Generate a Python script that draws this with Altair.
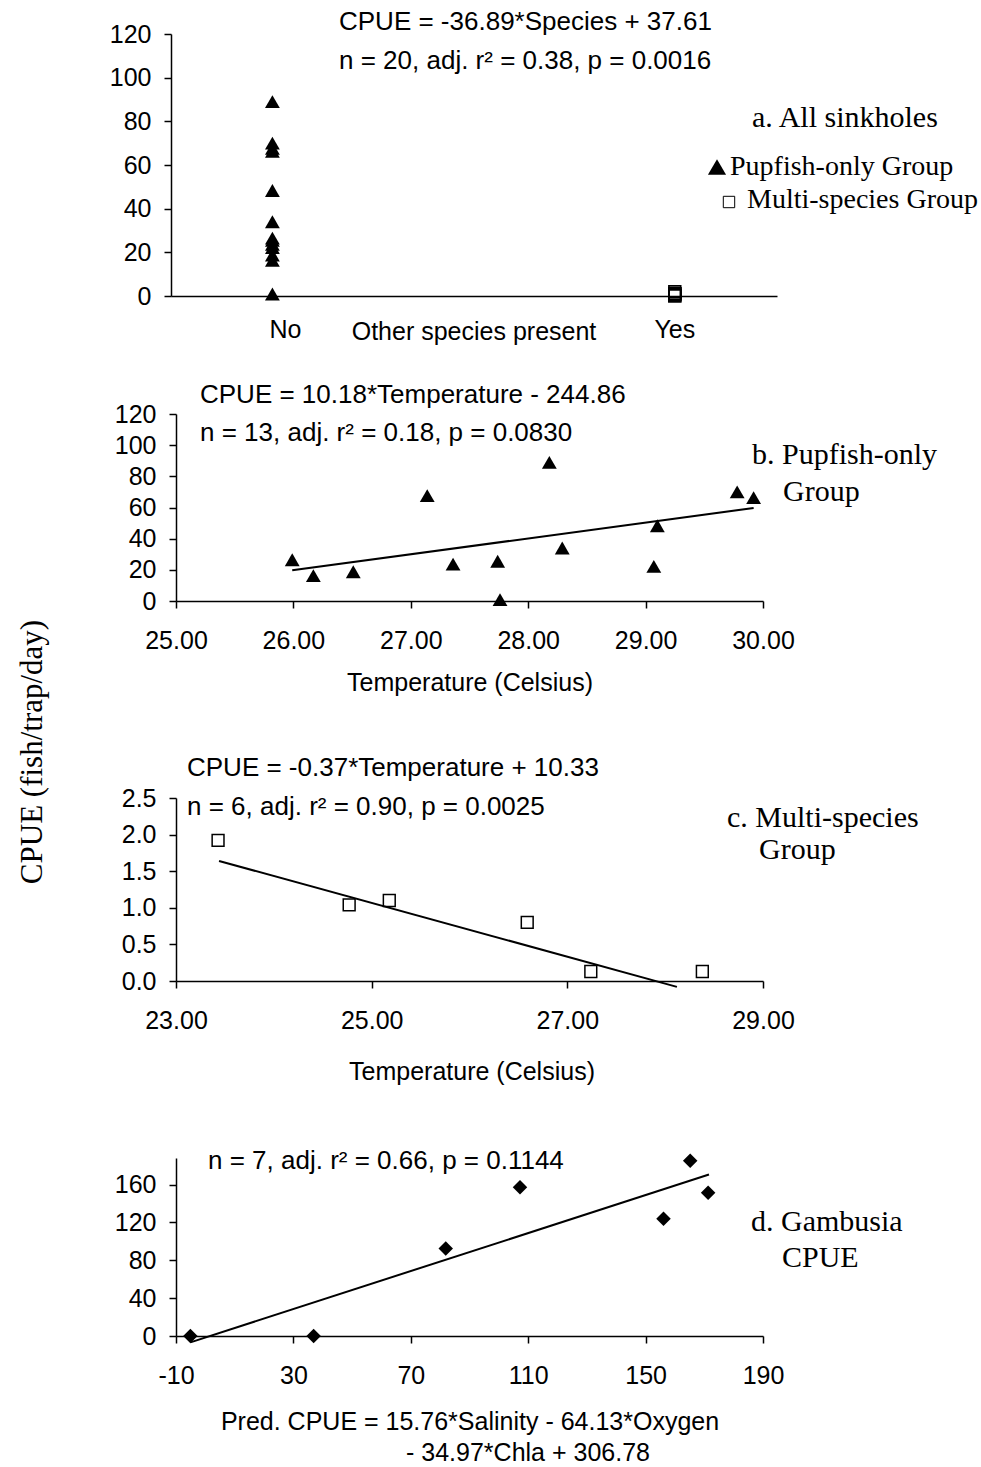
import altair as alt
import pandas as pd

# ---------------- data ----------------
species_labels = ["No", "Yes"]
species_codes = [0, 1]

pupfish_temp = [25.99, 26.17, 26.51, 27.14, 27.36, 27.74, 27.76, 28.18, 28.29, 29.07, 29.10, 29.78, 29.92]
pupfish_cpue = [26.5, 16.3, 18.8, 67.6, 23.7, 25.5, 0.9, 89.0, 34.0, 22.2, 48.3, 70.0, 66.3]

multi_temp = [23.43, 24.77, 25.18, 26.59, 27.24, 28.38]
multi_cpue = [1.92, 1.04, 1.10, 0.80, 0.13, 0.13]

gamb_pred = [-5.1, 36.9, 81.9, 107.2, 156.1, 165.2, 171.3]
gamb_cpue = [0.0, 0.0, 92.3, 157.2, 123.9, 185.0, 151.2]

fit_b_temp = [25.99, 29.92]
fit_b_cpue = [19.7, 59.7]
fit_c_temp = [23.44, 28.12]
fit_c_cpue = [1.64, -0.08]
fit_d_pred = [-5.1, 171.6]
fit_d_cpue = [-6.7, 170.5]

ticks_a_y = [0, 20, 40, 60, 80, 100, 120]
ticks_b_x = [25, 26, 27, 28, 29, 30]
ticks_b_y = [0, 20, 40, 60, 80, 100, 120]
ticks_c_x = [23, 25, 27, 29]
ticks_c_y = [0.0, 0.5, 1.0, 1.5, 2.0, 2.5]
ticks_d_x = [-10, 30, 70, 110, 150, 190]
ticks_d_y = [0, 40, 80, 120, 160]

SANS = "Liberation Sans"
SERIF = "Liberation Serif"
EQ = 26
PANEL = 30
LEG = 28


def label(text, x, y, font=SANS, size=EQ, align="left", angle=0):
    return alt.Chart(pd.DataFrame({"t": [text]})).mark_text(
        font=font, fontSize=size, align=align, baseline="middle", color="black", angle=angle
    ).encode(x=alt.value(x), y=alt.value(y), text="t:N")


def marker(shape, x, y, size, filled):
    return alt.Chart(pd.DataFrame({"k": [0]})).mark_point(
        shape=shape, size=size, filled=filled, color="black", opacity=1, strokeWidth=1
    ).encode(x=alt.value(x), y=alt.value(y))


# ---------------- panel a ----------------
sx_a = alt.Scale(domain=[-0.252, 1.254], range=[-5, 601], nice=False, zero=False)
sy_a = alt.Scale(domain=[0, 120], nice=False, zero=False)
df_a_pup = pd.DataFrame({"code": [species_codes[0]] * len(pupfish_cpue), "cpue": pupfish_cpue})
df_a_mul = pd.DataFrame({"code": [species_codes[1]] * len(multi_cpue), "cpue": multi_cpue})
df_a_lab = pd.DataFrame({"code": species_codes, "lab": species_labels})

x_a = alt.X("code:Q", scale=sx_a, axis=alt.Axis(labels=False, ticks=False, title=None))
y_a = alt.Y("cpue:Q", scale=sy_a, axis=alt.Axis(values=ticks_a_y, format="d", title=None, offset=5))

frame = alt.Chart(pd.DataFrame({"k": [0]})).mark_rect(opacity=0).encode(
    x=alt.value(-176), x2=alt.value(805), y=alt.value(-34), y2=alt.value(1433)
)
a_tri = alt.Chart(df_a_pup).mark_point(shape="triangle-up", filled=True, size=220, color="black", opacity=1).encode(x=x_a, y=y_a)
a_sq = alt.Chart(df_a_mul).mark_point(shape="square", filled=False, size=140, color="black", strokeWidth=1.6, opacity=1).encode(x="code:Q", y="cpue:Q")
a_lab_no = alt.Chart(df_a_lab).transform_filter(alt.datum.code == species_codes[0]).mark_text(
    font=SANS, fontSize=25, baseline="middle", color="black", dx=13).encode(
    x="code:Q", y=alt.value(296), text="lab:N")
a_lab_yes = alt.Chart(df_a_lab).transform_filter(alt.datum.code == species_codes[1]).mark_text(
    font=SANS, fontSize=25, baseline="middle", color="black").encode(
    x="code:Q", y=alt.value(296), text="lab:N")

panel_a = alt.layer(
    frame, a_tri, a_sq, a_lab_no, a_lab_yes,
    label("CPUE = -36.89*Species + 37.61", 163, -12),
    label("n = 20, adj. r² = 0.38, p = 0.0016", 163, 27),
    label("Other species present", 298, 298, size=25, align="center"),
    label("a. All sinkholes", 576, 84, font=SERIF, size=PANEL),
    marker("triangle-up", 541, 133, 330, True),
    label("Pupfish-only Group", 554, 133, font=SERIF, size=LEG),
    marker("square", 553, 168, 130, False),
    label("Multi-species Group", 571, 166, font=SERIF, size=LEG),
).properties(width=601, height=262)

# ---------------- panel b ----------------
sx_b = alt.Scale(domain=[25, 30], nice=False, zero=False)
sy_b = alt.Scale(domain=[0, 120], range=[305, 118], nice=False, zero=False)
df_b = pd.DataFrame({"temp": pupfish_temp, "cpue": pupfish_cpue})
df_b_fit = pd.DataFrame({"temp": fit_b_temp, "cpue": fit_b_cpue})
x_b = alt.X("temp:Q", scale=sx_b, axis=alt.Axis(values=ticks_b_x, format=".2f", title=None))
y_b = alt.Y("cpue:Q", scale=sy_b, axis=alt.Axis(values=ticks_b_y, format="d", title=None))
b_pts = alt.Chart(df_b).mark_point(shape="triangle-up", filled=True, size=220, color="black", opacity=1).encode(x=x_b, y=y_b)
b_fit = alt.Chart(df_b_fit).mark_line(color="black", strokeWidth=2).encode(x="temp:Q", y="cpue:Q")
panel_b = alt.layer(
    b_pts, b_fit,
    label("CPUE = 10.18*Temperature - 244.86", 24, 99),
    label("n = 13, adj. r² = 0.18, p = 0.0830", 24, 137),
    label("b. Pupfish-only", 576, 159, font=SERIF, size=PANEL),
    label("Group", 607, 196, font=SERIF, size=PANEL),
    label("Temperature (Celsius)", 294, 387, size=25, align="center"),
).properties(width=587, height=305)

# ---------------- panel c ----------------
sx_c = alt.Scale(domain=[23, 29], nice=False, zero=False)
sy_c = alt.Scale(domain=[0, 2.5], range=[380, 197], nice=False, zero=False)
df_c = pd.DataFrame({"temp": multi_temp, "cpue": multi_cpue})
df_c_fit = pd.DataFrame({"temp": fit_c_temp, "cpue": fit_c_cpue})
x_c = alt.X("temp:Q", scale=sx_c, axis=alt.Axis(values=ticks_c_x, format=".2f", title=None))
y_c = alt.Y("cpue:Q", scale=sy_c, axis=alt.Axis(values=ticks_c_y, format=".1f", title=None))
c_pts = alt.Chart(df_c).mark_point(shape="square", filled=False, size=140, color="black", strokeWidth=1.5, opacity=1).encode(x=x_c, y=y_c)
c_fit = alt.Chart(df_c_fit).mark_line(color="black", strokeWidth=2).encode(x="temp:Q", y="cpue:Q")
panel_c = alt.layer(
    c_pts, c_fit,
    label("CPUE = -0.37*Temperature + 10.33", 11, 167),
    label("n = 6, adj. r² = 0.90, p = 0.0025", 11, 206),
    label("c. Multi-species", 551, 217, font=SERIF, size=PANEL),
    label("Group", 583, 249, font=SERIF, size=PANEL),
    label("Temperature (Celsius)", 296, 471, size=25, align="center"),
    label("CPUE (fish/trap/day)", -143, 151, font=SERIF, size=31, align="center", angle=270),
).properties(width=587, height=380)

# ---------------- panel d ----------------
sx_d = alt.Scale(domain=[-10, 190], nice=False, zero=False)
sy_d = alt.Scale(domain=[0, 188], range=[355, 177], nice=False, zero=False)
df_d = pd.DataFrame({"pred": gamb_pred, "cpue": gamb_cpue})
df_d_fit = pd.DataFrame({"pred": fit_d_pred, "cpue": fit_d_cpue})
x_d = alt.X("pred:Q", scale=sx_d, axis=alt.Axis(values=ticks_d_x, labelExpr="'' + datum.value", title=None))
y_d = alt.Y("cpue:Q", scale=sy_d, axis=alt.Axis(values=ticks_d_y, format="d", title=None))
d_pts = alt.Chart(df_d).mark_point(shape="diamond", filled=True, size=210, color="black", opacity=1).encode(x=x_d, y=y_d)
d_fit = alt.Chart(df_d_fit).mark_line(color="black", strokeWidth=2).encode(x="pred:Q", y="cpue:Q")
panel_d = alt.layer(
    d_pts, d_fit,
    label("n = 7, adj. r² = 0.66, p = 0.1144", 32, 180),
    label("d. Gambusia", 575, 241, font=SERIF, size=PANEL),
    label("CPUE", 606, 277, font=SERIF, size=PANEL),
    label("Pred. CPUE = 15.76*Salinity - 64.13*Oxygen", 294, 441, size=25, align="center"),
    label("- 34.97*Chla + 306.78", 352, 472, size=25, align="center"),
).properties(width=587, height=355)

chart = alt.vconcat(panel_a, panel_b, panel_c, panel_d, spacing=0, bounds="flush").properties(
    padding=0
).configure_view(stroke=None).configure_axis(
    labelFont=SANS, labelFontSize=25, labelColor="black", labelFlush=False, labelOverlap=False,
    domainColor="black", domainWidth=1.5, tickColor="black", tickWidth=1.5, tickSize=7, grid=False
).configure_axisX(labelPadding=20).configure_axisY(labelPadding=13)

chart.save("out.html", embed_options={"renderer": "svg", "actions": False})
